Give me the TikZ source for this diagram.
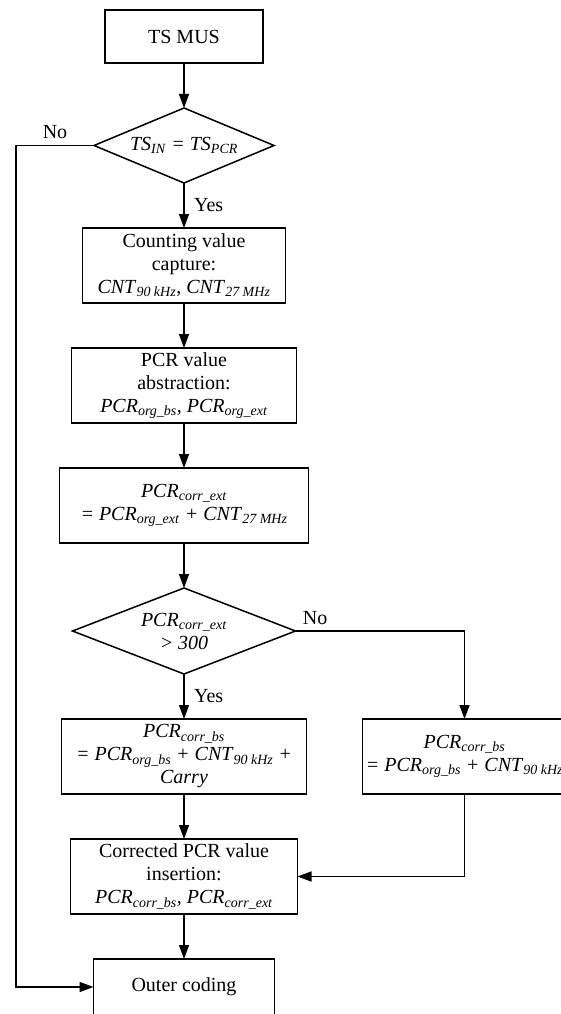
\documentclass[tikz,border=0pt]{standalone}
\usepackage{fontspec}
\setmainfont{Liberation Serif}
\usetikzlibrary{arrows.meta,positioning,shapes.geometric}
\newcommand{\vsub}[2]{\textit{#1}\textsubscript{\textit{#2}}}
\tikzset{
  fblock/.style={
    rectangle, draw=black, line width=1.5pt, align=center,
    inner sep=2pt, outer sep=0pt, minimum height=75pt,
    font=\fontsize{20}{23}\selectfont
  },
  fdecide/.style={
    diamond, draw=black, line width=1.5pt, align=center, aspect=2.5,
    inner sep=0pt, outer sep=0pt, font=\fontsize{20}{23}\selectfont
  },
  farrow/.style={draw=black, line width=1.5pt, -{Triangle[length=14pt,width=10pt]}},
  flabel/.style={font=\fontsize{20}{23}\selectfont}
}

\begin{document}
\begin{tikzpicture}[x=1pt, y=1pt, node distance=45pt]
        \useasboundingbox[fill=white] (0,0) rectangle (561,-1014);
        \node[fblock, minimum width=158pt, minimum height=53pt]
              at (184,-36.5)                                 (mus){TS MUS};
        \node[fdecide, below=of mus, minimum width=180pt,
              minimum height=75pt]                          (tscheck){\vsub{TS}{IN} \textit{=} \vsub{TS}{PCR}};
        \node[fblock, below=of tscheck, minimum width=203pt] (cap){Counting value\\capture:\\
              \vsub{CNT}{90 kHz}\textit{,} \vsub{CNT}{27 MHz}};
        \node[fblock, below=of cap, minimum width=225pt]     (abs){PCR value\\abstraction:\\
              \vsub{PCR}{org\_bs}\textit{,} \vsub{PCR}{org\_ext}};
        \node[fblock, below=of abs, minimum width=249pt]     (ext){\vsub{PCR}{corr\_ext}\\
              \textit{=} \vsub{PCR}{org\_ext} \textit{+} \vsub{CNT}{27 MHz}};
        \node[fdecide, below=of ext, minimum width=223pt,
              minimum height=86pt]                          (overflow){\vsub{PCR}{corr\_ext}\\\textit{> 300}};
        \node[fblock, below=of overflow, minimum width=245pt] (carry){\vsub{PCR}{corr\_bs}\\
              \textit{=} \vsub{PCR}{org\_bs} \textit{+} \vsub{CNT}{90 kHz} \textit{+}\\\textit{Carry}};
        \node[fblock, right=56pt of carry, minimum width=204pt] (nocarry){\vsub{PCR}{corr\_bs}\\
              \textit{=} \vsub{PCR}{org\_bs} \textit{+} \vsub{CNT}{90 kHz}};
        \node[fblock, below=of carry, minimum width=227pt]   (ins){Corrected PCR value\\insertion:\\
              \vsub{PCR}{corr\_bs}\textit{,} \vsub{PCR}{corr\_ext}};
        \node[fblock, below=of ins, minimum width=181pt,
              minimum height=56pt]                          (outer){Outer coding};
        \foreach \i/\j in {mus/tscheck,cap/abs,abs/ext,ext/overflow,carry/ins,ins/outer}
          \draw[farrow] (\i) -- (\j);
        \draw[farrow] (tscheck) -- node[flabel, right, xshift=6pt]{Yes} (cap);
        \draw[farrow] (overflow) -- node[flabel, right, xshift=6pt]{Yes} (carry);
        \draw[farrow] (tscheck.west) -- node[flabel, above, pos=0.5, yshift=3pt]{No}
              ++(-78,0) |- (outer.west);
        \draw[farrow] (overflow.east) -- node[flabel, above right, pos=0.02, yshift=2pt]{No}
              (overflow.east -| nocarry.north) -- (nocarry.north);
        \draw[farrow] (nocarry.south) |- (ins.east);
      \end{tikzpicture}
\end{document}
